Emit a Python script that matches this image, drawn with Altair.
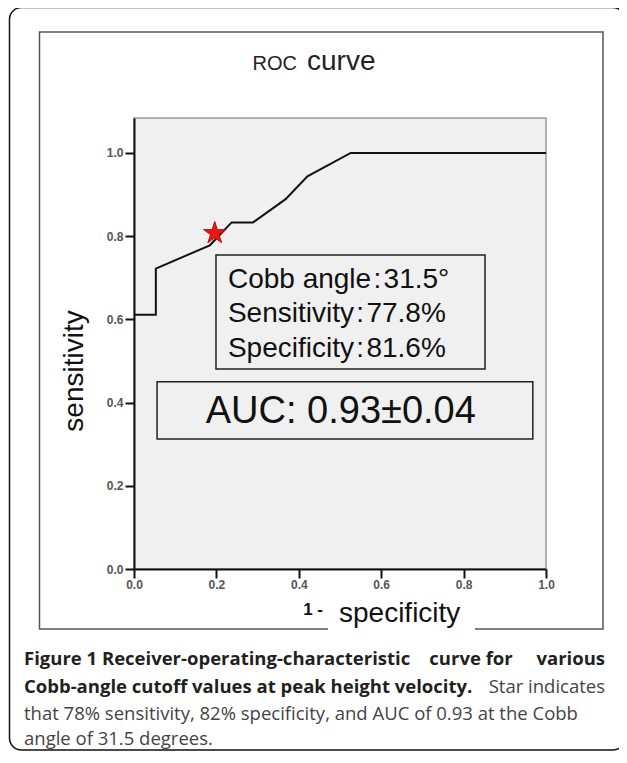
import altair as alt
import pandas as pd

# ---- data ----
fpr = [0.0, 0.053, 0.053, 0.184, 0.237, 0.289, 0.368, 0.421, 0.526, 1.0]
tpr = [0.611, 0.611, 0.722, 0.778, 0.833, 0.833, 0.889, 0.944, 1.0, 1.0]

star_fpr = [0.196]
star_tpr = [0.807]

tick_values = [0.0, 0.2, 0.4, 0.6, 0.8, 1.0]

HS = "\u200a"  # hair space around the colons, as in the reference
info_lines = [f"Cobb angle{HS}:{HS}31.5°", f"Sensitivity{HS}:{HS}77.8%",
              f"Specificity{HS}:{HS}81.6%"]
auc_label = ["AUC: 0.93±0.04"]

title_parts = ["ROC", "curve"]
y_title = "sensitivity"
x_title_parts = ["1 -", "specificity"]

caption_bold_1a = "Figure 1 Receiver-operating-characteristic"
caption_bold_1b = "curve for"
caption_bold_1c = "various"
caption_bold_2 = "Cobb-angle cutoff values at peak height velocity."
caption_norm_2 = "Star indicates"
caption_norm_3 = "that 78% sensitivity, 82% specificity, and AUC of 0.93 at the Cobb"
caption_norm_4 = "angle of 31.5 degrees."

# ---- annotation placement (data space) ----
info_x = [0.228, 0.228, 0.228]
info_y = [0.675, 0.594, 0.510]
box_x = [0.199, 0.056]
box_x2 = [0.852, 0.968]
box_y = [0.481, 0.3125]
box_y2 = [0.755, 0.450]
auc_x = [0.502]
auc_y = [0.351]

# ---- layout ----
W, H = 412, 451
PAD = {"left": 126, "top": 110, "right": 73, "bottom": 182}

xs = alt.Scale(domain=[0, 1], nice=False, zero=False)
ys = alt.Scale(domain=[0, 1.084], nice=False, zero=False)

axis_common = dict(
    values=tick_values, format=".1f", title=None, grid=False,
    domainColor="#111", domainWidth=2, tickColor="#111", tickWidth=2,
    tickSize=9, labelFontSize=12, labelFontWeight="bold", labelColor="#555",
    labelFont="Liberation Sans", labelFlush=False,
)
xaxis = alt.Axis(labelPadding=1, **axis_common)
yaxis = alt.Axis(labelPadding=2, **axis_common)

roc = pd.DataFrame({"fpr": fpr, "tpr": tpr, "order": list(range(len(fpr)))})
line = alt.Chart(roc).mark_line(color="#111", strokeWidth=2).encode(
    x=alt.X("fpr:Q", scale=xs, axis=xaxis),
    y=alt.Y("tpr:Q", scale=ys, axis=yaxis),
    order="order:Q",
)

star_path = ("M0,-1L0.2245,-0.309L0.951,-0.309L0.363,0.118L0.588,0.809L0,0.382"
             "L-0.588,0.809L-0.363,0.118L-0.951,-0.309L-0.2245,-0.309Z")
star_df = pd.DataFrame({"fpr": star_fpr, "tpr": star_tpr})
star = alt.Chart(star_df).mark_point(
    shape=star_path, size=560, filled=True, fill="#ee1515", stroke="#a00000",
    strokeWidth=0.8, opacity=1,
).encode(
    x=alt.X("fpr:Q", scale=xs, axis=xaxis),
    y=alt.Y("tpr:Q", scale=ys, axis=yaxis),
)

boxes_df = pd.DataFrame({"x": box_x, "x2": box_x2, "y": box_y, "y2": box_y2})
boxes = alt.Chart(boxes_df).mark_rect(
    fillOpacity=0, stroke="#222", strokeWidth=1.5
).encode(
    x=alt.X("x:Q", scale=xs, axis=xaxis), x2="x2:Q",
    y=alt.Y("y:Q", scale=ys, axis=yaxis), y2="y2:Q",
)

info_df = pd.DataFrame({"x": info_x, "y": info_y, "label": info_lines})
info = alt.Chart(info_df).mark_text(
    align="left", baseline="alphabetic", fontSize=28, font="Liberation Sans", color="#111"
).encode(
    x=alt.X("x:Q", scale=xs, axis=xaxis),
    y=alt.Y("y:Q", scale=ys, axis=yaxis),
    text="label:N",
)

auc_df = pd.DataFrame({"x": auc_x, "y": auc_y, "label": auc_label})
auc = alt.Chart(auc_df).mark_text(
    align="center", baseline="alphabetic", fontSize=38, font="Liberation Sans", color="#111"
).encode(
    x=alt.X("x:Q", scale=xs, axis=xaxis),
    y=alt.Y("y:Q", scale=ys, axis=yaxis),
    text="label:N",
)

one = pd.DataFrame({"k": [0]})


def frame(x, x2, y, y2, **kw):
    return alt.Chart(one).mark_rect(**kw).encode(
        x=alt.value(x), x2=alt.value(x2), y=alt.value(y), y2=alt.value(y2)
    )


def label(txt, x, y, **kw):
    return alt.Chart(one).mark_text(**kw).encode(
        x=alt.value(x), y=alt.value(y), text=alt.value(txt)
    )


outer = frame(-124.5, 491, -110.5, 632, fillOpacity=0, stroke="#111",
              strokeWidth=1.5, cornerRadius=12)
inner = frame(-94.5, 469, -86, 511, fillOpacity=0, stroke="#555", strokeWidth=1.5)
patch = frame(194, 341, 507, 515, fill="white", strokeWidth=0)

SANS = "Liberation Sans"
t1 = label(title_parts[0], 163, -48, align="right", baseline="alphabetic",
           fontSize=20, font=SANS, color="#222")
t2 = label(title_parts[1], 173, -48, align="left", baseline="alphabetic",
           fontSize=28, font=SANS, color="#222")

yt = label(y_title, -59, 253, angle=270, align="center", baseline="middle",
           fontSize=28, font=SANS, color="#111")
xt1 = label(x_title_parts[0], 189, 497, align="right", baseline="alphabetic",
            fontSize=17, fontWeight="bold", font=SANS, color="#111")
xt2 = label(x_title_parts[1], 205, 504, align="left", baseline="alphabetic",
            fontSize=28, font=SANS, color="#111")

CAP = "Open Sans"
CS = 18.5
c1a = label(caption_bold_1a, -110, 541, align="left", baseline="middle",
            fontSize=CS, fontWeight="bold", font=CAP, color="#231f20")
c1b = label(caption_bold_1b, 337, 541, align="center", baseline="middle",
            fontSize=CS, fontWeight="bold", font=CAP, color="#231f20")
c1c = label(caption_bold_1c, 471, 541, align="right", baseline="middle",
            fontSize=CS, fontWeight="bold", font=CAP, color="#231f20")
c2 = label(caption_bold_2, -110, 569, align="left", baseline="middle",
           fontSize=CS, fontWeight="bold", font=CAP, color="#231f20")
c2b = label(caption_norm_2, 471, 569, align="right", baseline="middle",
            fontSize=CS, font=CAP, color="#444")
c3 = label(caption_norm_3, -110, 596, align="left", baseline="middle",
           fontSize=CS, font=CAP, color="#444")
c4 = label(caption_norm_4, -110, 621, align="left", baseline="middle",
           fontSize=CS, font=CAP, color="#444")

chart = alt.layer(
    line, boxes, info, auc, star,
    outer, inner, patch, t1, t2, yt, xt1, xt2,
    c1a, c1b, c1c, c2, c2b, c3, c4,
).properties(
    width=W, height=H, padding=PAD,
    autosize=alt.AutoSizeParams(type="none"),
).configure(background="white").configure_view(
    fill="#f0f0f0", stroke="#9a9a9a", strokeWidth=1.5
)

chart.save("out.html", embed_options={"renderer": "svg", "actions": False})
